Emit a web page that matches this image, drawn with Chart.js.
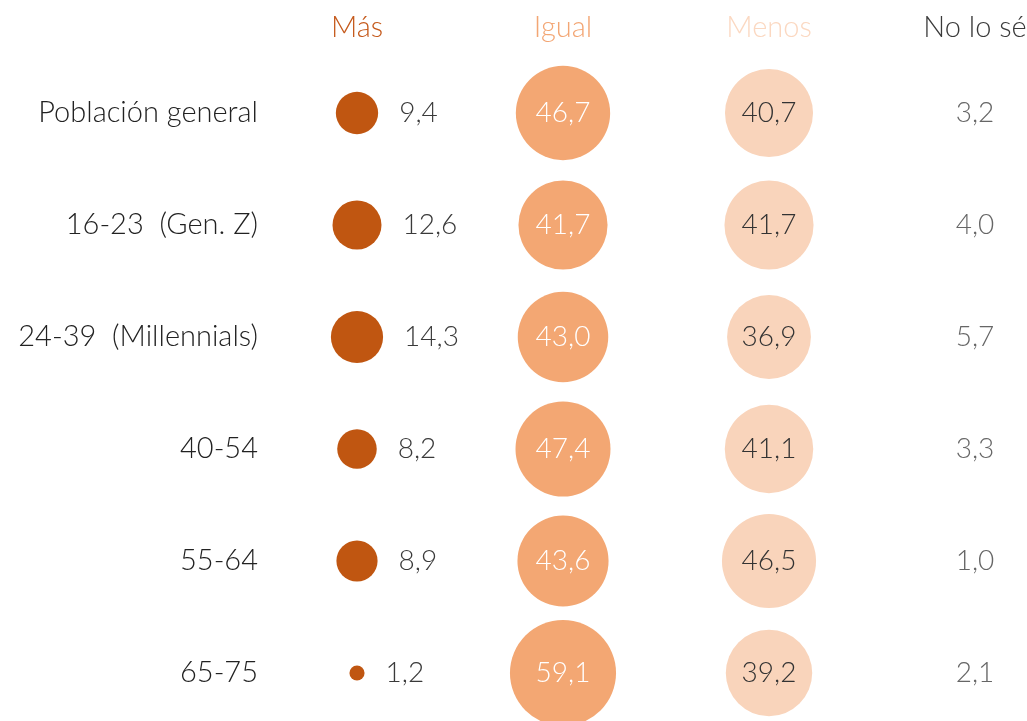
<!DOCTYPE html>
<html>
<head>
<meta charset="utf-8">
<script src="https://cdn.jsdelivr.net/npm/chart.js@4.4.1/dist/chart.umd.min.js"></script>
<style>
  html, body { margin: 0; padding: 0; background: #fff; overflow: hidden; }
  #wrap { width: 1027px; height: 721px; }
</style>
</head>
<body>
<div id="wrap"><canvas id="chart"></canvas></div>
<script>
// rows and columns
var groups = ['Población general', '16-23  (Gen. Z)', '24-39  (Millennials)', '40-54', '55-64', '65-75'];
var answers = ['Más', 'Igual', 'Menos', 'No lo sé'];

var mas    = [9.4, 12.6, 14.3, 8.2, 8.9, 1.2];
var igual  = [46.7, 41.7, 43.0, 47.4, 43.6, 59.1];
var menos  = [40.7, 41.7, 36.9, 41.1, 46.5, 39.2];
var nolose = [3.2, 4.0, 5.7, 3.3, 1.0, 2.1];

var headerColors = ['#c55a1c', '#f3a674', '#fbd8c1', '#3a3a3a'];
var bubbleColors = ['#c05611', '#f3a773', '#f9d4bb', 'rgba(0,0,0,0)'];
var labelColors  = ['#3a3a3a', '#ffffff', '#333333', '#666666'];

var FONT = 'Lato';

function fmt(v) { return v.toFixed(1).replace('.', ','); }

function makeData(values, col, showBubble) {
    return values.map(function (v, i) {
        return { x: col, y: i, r: showBubble ? 6.9 * Math.sqrt(v) : 0, v: v };
    });
}

var datasets = [mas, igual, menos, nolose].map(function (values, col) {
    return {
        label: answers[col],
        data: makeData(values, col, col < 3),
        backgroundColor: bubbleColors[col],
        borderWidth: 0,
        hoverRadius: 0
    };
});

// value labels: inside the bubble, except "Más" (to the right) and "No lo sé" (no bubble)
var valueLabels = {
    id: 'valueLabels',
    afterDatasetsDraw: function (chart) {
        var ctx = chart.ctx;
        ctx.save();
        ctx.font = '300 28px ' + FONT;
        ctx.textBaseline = 'middle';
        chart.data.datasets.forEach(function (ds, col) {
            var meta = chart.getDatasetMeta(col);
            meta.data.forEach(function (pt, i) {
                var d = ds.data[i];
                ctx.fillStyle = labelColors[col];
                if (col === 0) {
                    ctx.textAlign = 'left';
                    ctx.fillText(fmt(d.v), pt.x + d.r + 21, pt.y);
                } else {
                    ctx.textAlign = 'center';
                    ctx.fillText(fmt(d.v), pt.x, pt.y);
                }
            });
        });
        ctx.restore();
    }
};

new Chart(document.getElementById('chart'), {
    type: 'bubble',
    data: { datasets: datasets },
    plugins: [valueLabels],
    options: {
        responsive: true,
        maintainAspectRatio: false,
        animation: false,
        layout: { padding: 0, autoPadding: false },
        plugins: { legend: { display: false }, tooltip: { enabled: false } },
        scales: {
            x: {
                type: 'linear',
                position: 'top',
                min: -0.4417,
                max: 3.2524,
                grid: { display: false, drawTicks: false },
                border: { display: false },
                afterBuildTicks: function (s) { s.ticks = answers.map(function (a, i) { return { value: i }; }); },
                afterFit: function (s) {
                    s.height = 57;
                    s.paddingLeft = 0; s.paddingRight = 0;
                },
                ticks: {
                    padding: 12,
                    maxRotation: 0,
                    autoSkip: false,
                    font: { family: FONT, size: 29, weight: 300 },
                    color: function (c) { return headerColors[c.index]; },
                    callback: function (v) { return answers[v]; }
                }
            },
            y: {
                type: 'linear',
                reverse: true,
                min: -0.5,
                max: 5.4286,
                grid: { display: false, drawTicks: false },
                border: { display: false },
                afterBuildTicks: function (s) { s.ticks = groups.map(function (g, i) { return { value: i }; }); },
                afterFit: function (s) {
                    s.width = 266;
                    s.paddingTop = 0; s.paddingBottom = 0;
                },
                ticks: {
                    padding: 8,
                    autoSkip: false,
                    font: { family: FONT, size: 29, weight: 300 },
                    color: '#222222',
                    callback: function (v) { return groups[v]; }
                }
            }
        }
    }
});
</script>
</body>
</html>
